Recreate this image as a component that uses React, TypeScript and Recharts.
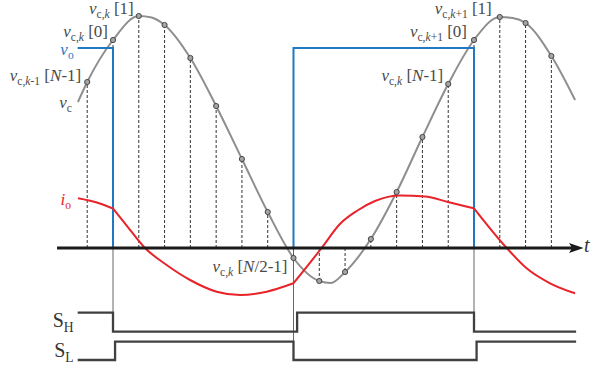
import React from 'react';
import { ComposedChart, Line, XAxis, YAxis } from 'recharts';

// time axis in sampling periods (t = 0 at sample k[0]); voltage normalised so that vo high = 1
const sampleTimes = [-1, 0, 1, 2, 3, 4, 5, 6, 7, 8, 9, 10, 11, 12, 13, 14, 15, 16, 17];
const sampleValues = [0.83, 1.04, 1.16, 1.115, 0.95, 0.71, 0.445, 0.18, -0.05, -0.165, -0.12, 0.045, 0.28, 0.555, 0.82, 1.04, 1.155, 1.125, 0.96];

const vcTimes = [-1.36, -1, 0, 1, 1.5, 2, 3, 4, 5, 6, 7, 8, 8.45, 9, 10, 11, 12, 13, 14, 15, 15.5, 16, 17, 17.92];
const vcValues = [0.73, 0.83, 1.04, 1.16, 1.1525, 1.115, 0.95, 0.71, 0.445, 0.18, -0.05, -0.165, -0.175, -0.12, 0.045, 0.28, 0.555, 0.82, 1.04, 1.155, 1.15, 1.125, 0.96, 0.74];

const ioTimesA = [-1.36, -0.63, 0];
const ioValuesA = [0.2485, 0.2275, 0.1975];
const ioTimesB = [0, 0.53, 1.24, 2.08, 2.99, 4.02, 4.93, 5.96, 7];
const ioValuesB = [0.1975, 0.112, 0, -0.085, -0.16, -0.2185, -0.235, -0.2185, -0.1765];
const ioTimesC = [7, 8.09, 8.8, 9.45, 10.16, 11.13, 12.1, 12.99, 14];
const ioValuesC = [-0.1765, 0, 0.12, 0.185, 0.235, 0.2625, 0.2575, 0.23, 0.1985];
const ioTimesD = [14, 15.27, 16.04, 16.95, 17.92];
const ioValuesD = [0.1985, 0, -0.1015, -0.1765, -0.2265];

const voEdges = [-1.37, 0, 7, 14, 14];
const voStates = [1, 0, 1, 0];
const shEdges = [-1.37, 0, 7.14, 14, 17.96];
const shStates = [1, 0, 1, 0];
const slEdges = [-1.37, 0.08, 7, 14.1, 17.96];
const slStates = [0, 1, 0, 1];

const switchTimes = [0, 7, 14];
const axisStart = -2.17;
const axisEnd = 17.88;

// ---- layout / style constants ----
const W = 593;
const H = 367;
const X_DOMAIN = [-4.3822, 18.6147];
const Y_DOMAIN = [-0.595, 1.24];
const SH_BASE = -0.4185;
const SH_AMP = 0.095;
const SL_BASE = -0.56;
const SL_AMP = 0.0915;
const SERIF = 'Liberation Serif, DejaVu Serif';
const GRAY_TEXT = '#4a4a4a';
const BLUE = '#1f78c1';
const RED = '#e8232a';
const GRAY_CURVE = '#8e8e8e';

const pts = (ts: number[], vs: number[]) => ts.map((t, i) => ({ t, v: vs[i] }));
const steps = (edges: number[], states: number[], base = 0, amp = 1) => {
  const out: { t: number; v: number }[] = [];
  states.forEach((s, i) => {
    out.push({ t: edges[i], v: base + s * amp });
    out.push({ t: edges[i + 1], v: base + s * amp });
  });
  return out;
};

type Seg = { x: string; it?: boolean; sub?: boolean };
const I = (x: string, sub = false): Seg => ({ x, it: true, sub });
const N = (x: string, sub = false): Seg => ({ x, sub });

const vck = (extra: Seg[], idx: Seg[]) => [I('v'), N('c,', true), I('k', true), ...extra, ...idx];

const labels = [
  { at: { t: sampleTimes[0], v: sampleValues[0] }, segs: vck([N('-1', true)], [N('\u00A0['), I('N'), N('-1]')]), dx: -6, dy: -1, fill: GRAY_TEXT, size: 17 },
  { at: { t: sampleTimes[1], v: sampleValues[1] }, segs: vck([], [N('\u00A0[0]')]), dx: -5, dy: -3, fill: GRAY_TEXT, size: 17 },
  { at: { t: sampleTimes[2], v: sampleValues[2] }, segs: vck([], [N('\u00A0[1]')]), dx: -5, dy: -2, fill: GRAY_TEXT, size: 17 },
  { at: { t: sampleTimes[8], v: sampleValues[8] }, segs: vck([], [N('\u00A0['), I('N'), N('/2-1]')]), dx: -6, dy: 14, fill: GRAY_TEXT, size: 17 },
  { at: { t: sampleTimes[14], v: sampleValues[14] }, segs: vck([], [N('\u00A0['), I('N'), N('-1]')]), dx: -5, dy: -3, fill: GRAY_TEXT, size: 17 },
  { at: { t: sampleTimes[15], v: sampleValues[15] }, segs: vck([N('+1', true)], [N('\u00A0[0]')]), dx: -7, dy: -3, fill: GRAY_TEXT, size: 17 },
  { at: { t: sampleTimes[16], v: sampleValues[16] }, segs: vck([N('+1', true)], [N('\u00A0[1]')]), dx: -8, dy: -3, fill: GRAY_TEXT, size: 17 },
  { at: { t: vcTimes[0], v: vcValues[0] }, segs: [I('v'), N('c', true)], dx: -6, dy: 6, fill: GRAY_TEXT, size: 17 },
  { at: { t: voEdges[0], v: voStates[0] }, segs: [I('v'), N('o', true)], dx: -4, dy: 7, fill: BLUE, size: 17 },
  { at: { t: ioTimesA[0], v: ioValuesA[0] }, segs: [I('i'), N('o', true)], dx: -7, dy: 7, fill: RED, size: 17 },
  { at: { t: shEdges[0], v: SH_BASE + shStates[0] * SH_AMP }, segs: [N('S'), N('H', true)], dx: -4, dy: 14, fill: '#333', size: 20 },
  { at: { t: slEdges[0], v: SL_BASE + slStates[0] * SL_AMP }, segs: [N('S'), N('L', true)], dx: -4, dy: -3, fill: '#333', size: 20 },
  { at: { t: axisEnd, v: 0 }, segs: [I('t')], dx: 10, dy: 4, fill: '#333', size: 20, anchor: 'start' },
];

function RichText({ x, y, segs, size, fill, anchor = 'end' }: any) {
  let shift = 0;
  return (
    <text x={x} y={y} textAnchor={anchor} fill={fill} fontFamily={SERIF} fontSize={size}>
      {segs.map((s: Seg, i: number) => {
        const target = s.sub ? size * 0.24 : 0;
        const dy = target - shift;
        shift = target;
        return (
          <tspan key={i} dy={dy} fontFamily={SERIF} fontSize={s.sub ? size * 0.68 : size} fontStyle={s.it ? 'italic' : 'normal'}>
            {s.x}
          </tspan>
        );
      })}
    </text>
  );
}

const common = { isAnimationActive: false, dot: false, activeDot: false, dataKey: 'v', legendType: 'none' as const };

export default function App() {
  return (
    <div style={{ width: W, height: H }}>
      <style>{'body{margin:0;background:#fff}'}</style>
      <ComposedChart width={W} height={H} margin={{ top: 0, right: 0, bottom: 0, left: 0 }}>
        <XAxis dataKey="t" type="number" domain={X_DOMAIN} hide allowDataOverflow />
        <YAxis dataKey="v" type="number" domain={Y_DOMAIN} hide allowDataOverflow />

        {sampleTimes.map((t, i) => (
          <Line key={'d' + i} {...common} data={[{ t, v: 0 }, { t, v: sampleValues[i] }]} type="linear"
            stroke="#333" strokeWidth={1} strokeDasharray="3 2" />
        ))}

        {switchTimes.map((t, i) => {
          const bottom = i === 1 ? SL_BASE : SH_BASE;
          return (
            <Line key={'s' + i} {...common} data={[{ t, v: 0 }, { t, v: bottom }]} type="linear"
              stroke="#555" strokeWidth={0.9} />
          );
        })}

        <Line {...common} data={pts(vcTimes, vcValues)} type="monotone" stroke={GRAY_CURVE} strokeWidth={2} />
        <Line {...common} data={steps(voEdges, voStates)} type="linear" stroke={BLUE} strokeWidth={2} />
        <Line {...common} data={pts(ioTimesA, ioValuesA)} type="monotone" stroke={RED} strokeWidth={2} />
        <Line {...common} data={pts(ioTimesB, ioValuesB)} type="monotone" stroke={RED} strokeWidth={2} />
        <Line {...common} data={pts(ioTimesC, ioValuesC)} type="monotone" stroke={RED} strokeWidth={2} />
        <Line {...common} data={pts(ioTimesD, ioValuesD)} type="monotone" stroke={RED} strokeWidth={2} />

        <Line {...common} data={steps(shEdges, shStates, SH_BASE, SH_AMP)} type="linear" stroke="#404040" strokeWidth={2.3} />
        <Line {...common} data={steps(slEdges, slStates, SL_BASE, SL_AMP)} type="linear" stroke="#404040" strokeWidth={2.3} />

        <Line {...common} data={[{ t: axisStart, v: 0 }, { t: axisEnd, v: 0 }]} type="linear" stroke="#1a1a1a" strokeWidth={3}
          dot={(p: any) =>
            p.index === 1 ? (
              <polygon key="arrow" points={`${p.cx - 5},${p.cy - 5} ${p.cx + 9.5},${p.cy} ${p.cx - 5},${p.cy + 5} ${p.cx - 2},${p.cy}`} fill="#1a1a1a" />
            ) : (
              <g key="a0" />
            )
          } />

        <Line {...common} data={pts(sampleTimes, sampleValues)} type="linear" stroke="none"
          dot={{ r: 2.6, fill: '#a5a5a5', stroke: '#3a3a3a', strokeWidth: 0.9 }} />

        <Line {...common} data={labels.map((l) => l.at)} type="linear" stroke="none"
          dot={(p: any) => {
            const l = labels[p.index];
            return (
              <g key={'l' + p.index}>
                <RichText x={p.cx + l.dx} y={p.cy + l.dy} segs={l.segs} size={l.size} fill={l.fill} anchor={(l as any).anchor || 'end'} />
              </g>
            );
          }} />
      </ComposedChart>
    </div>
  );
}
